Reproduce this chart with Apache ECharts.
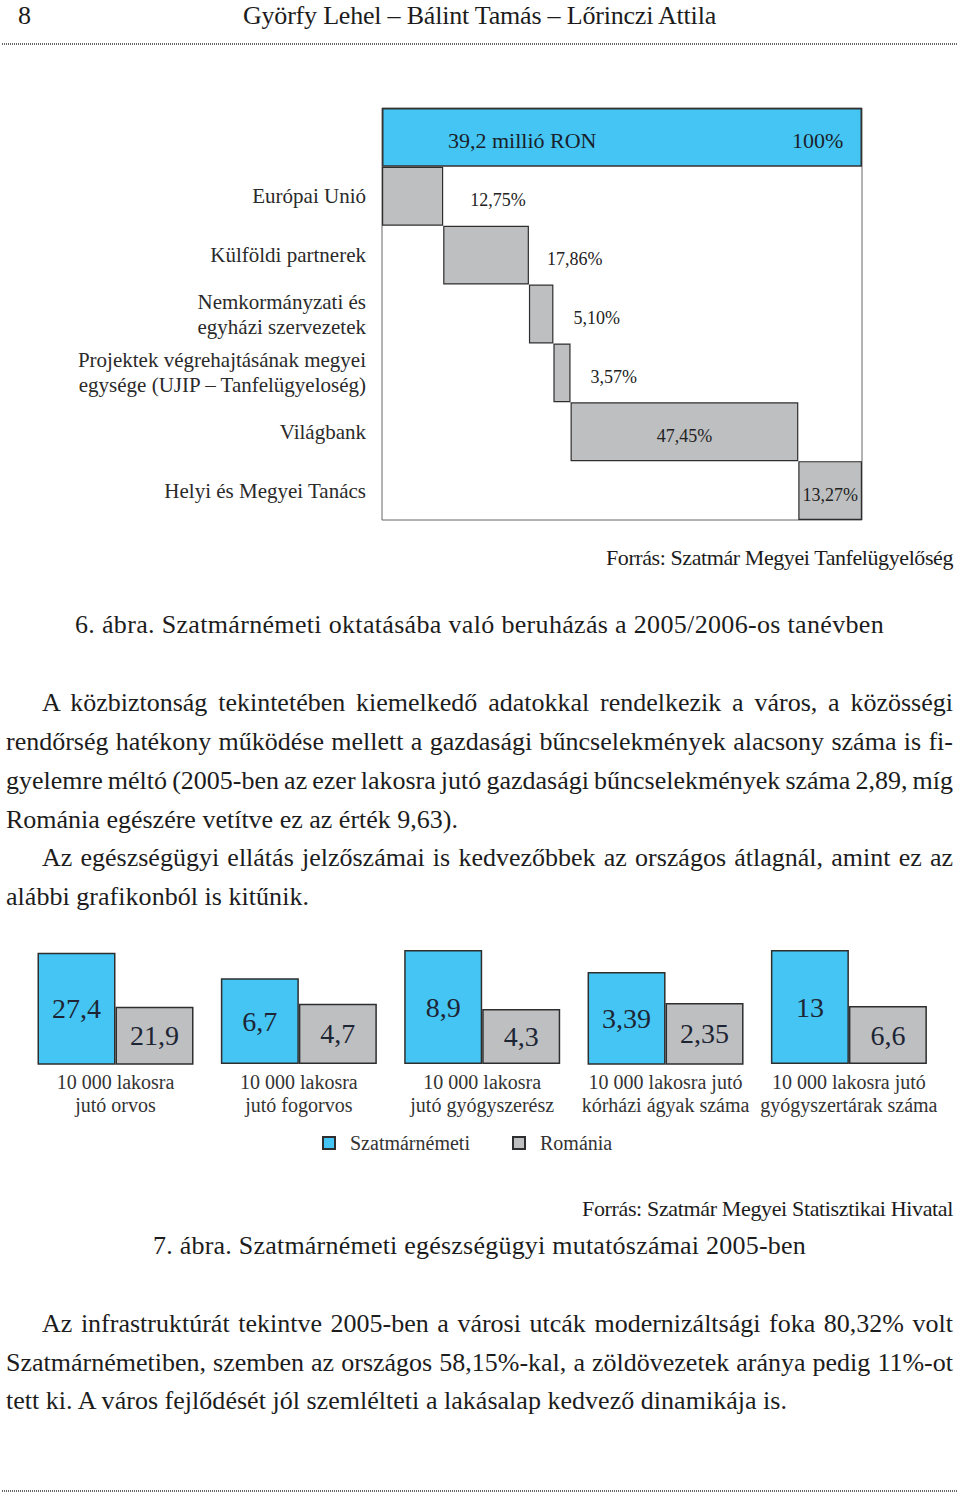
<!DOCTYPE html>
<html><head><meta charset="utf-8">
<script src="https://cdn.jsdelivr.net/npm/echarts@6/dist/echarts.min.js"></script>
<style>
html,body{margin:0;padding:0;background:#fff;}
#page{position:relative;width:960px;height:1494px;overflow:hidden;background:#fff;}
#chart{position:absolute;left:0;top:0;width:960px;height:1494px;}
.t{position:absolute;font-family:'Liberation Serif',serif;color:#1c1c1c;white-space:nowrap;line-height:30px;}
.dots{position:absolute;left:2px;width:956px;height:2px;background:repeating-linear-gradient(to right,#666 0 1px,transparent 1px 2px);}
</style></head>
<body><div id="page"><div id="chart"></div></div>
<script>
// ---------- data ----------
const fundCategories = ['', 'Európai Unió', 'Külföldi partnerek', 'Nemkormányzati és\negyházi szervezetek',
  'Projektek végrehajtásának megyei\negysége (UJIP – Tanfelügyeloség)', 'Világbank', 'Helyi és Megyei Tanács'];
const fundShares = [100, 12.75, 17.86, 5.10, 3.57, 47.45, 13.27];
const fundTotalLabel = '39,2 millió RON';

const healthCategories = ['10 000 lakosra\njutó orvos', '10 000 lakosra\njutó fogorvos', '10 000 lakosra\njutó gyógyszerész',
  '10 000 lakosra jutó\nkórházi ágyak száma', '10 000 lakosra jutó\ngyógyszertárak száma'];
const szatmarValues = [27.4, 6.7, 8.9, 3.39, 13];
const romaniaValues = [21.9, 4.7, 4.3, 2.35, 6.6];
const seriesNames = ['Szatmárnémeti', 'Románia'];

// ---------- text of the page ----------
const FONT = "'Liberation Serif', serif";
const page = document.getElementById('page');
function place(text, x1, x2, yc, size, mode) {
  const d = document.createElement('div');
  d.className = 't'; d.textContent = text;
  d.style.fontSize = size + 'px'; d.style.left = x1 + 'px'; d.style.top = (yc - 15) + 'px';
  page.appendChild(d);
  const w = d.getBoundingClientRect().width, target = x2 - x1;
  if (mode === 'justify') {
    const n = (text.match(/ /g) || []).length;
    if (n) d.style.wordSpacing = ((target - w) / n) + 'px';
  } else if (mode === 'fit') {
    d.style.letterSpacing = ((target - w) / text.length) + 'px';
  }
}
function dots(y) { const d = document.createElement('div'); d.className = 'dots'; d.style.top = y + 'px'; page.appendChild(d); }

place('8', 18, 32, 16, 26, 'none');
place('Györfy Lehel – Bálint Tamás – Lőrinczi Attila', 243, 716, 16, 26, 'fit');
dots(43);
place('Forrás: Szatmár Megyei Tanfelügyelőség', 606, 953, 558, 22, 'fit');
place('6. ábra. Szatmárnémeti oktatásába való beruházás a 2005/2006-os tanévben', 75, 884, 625, 26, 'fit');
place('A közbiztonság tekintetében kiemelkedő adatokkal rendelkezik a város, a közösségi', 42, 953, 703, 26, 'justify');
place('rendőrség hatékony működése mellett a gazdasági bűncselekmények alacsony száma is fi-', 6, 953, 742, 26, 'justify');
place('gyelemre méltó (2005-ben az ezer lakosra jutó gazdasági bűncselekmények száma 2,89, míg', 6, 953, 781, 26, 'justify');
place('Románia egészére vetítve ez az érték 9,63).', 6, 458, 820, 26, 'fit');
place('Az egészségügyi ellátás jelzőszámai is kedvezőbbek az országos átlagnál, amint ez az', 42, 953, 858, 26, 'justify');
place('alábbi grafikonból is kitűnik.', 6, 309, 897, 26, 'fit');
place('Forrás: Szatmár Megyei Statisztikai Hivatal', 582, 953, 1209, 22, 'fit');
place('7. ábra. Szatmárnémeti egészségügyi mutatószámai 2005-ben', 153, 806, 1246, 26, 'fit');
place('Az infrastruktúrát tekintve 2005-ben a városi utcák modernizáltsági foka 80,32% volt', 42, 953, 1324, 26, 'justify');
place('Szatmárnémetiben, szemben az országos 58,15%-kal, a zöldövezetek aránya pedig 11%-ot', 6, 953, 1363, 26, 'justify');
place('tett ki. A város fejlődését jól szemlélteti a lakásalap kedvező dinamikája is.', 6, 787, 1401, 26, 'fit');
dots(1490);

// ---------- chart ----------
const BLUE = '#44c5f3', GRAY = '#bebfc1', EDGE = '#2e2e2e';
const fmtNum = v => String(v).replace('.', ',');
const fmtPct = v => v.toFixed(2).replace('.', ',') + '%';

// invisible offsets for the waterfall (running total of previous shares)
const fundBase = fundShares.map((v, i) => {
  if (i <= 1) return 0;
  let s = 0; for (let k = 1; k < i; k++) s += fundShares[k]; return s;
});
const shareLabelPlacement = [null,
  { position: 'right', distance: 27 }, { position: 'right', distance: 18 },
  { position: 'right', distance: 20 }, { position: 'right', distance: 20 },
  { position: 'inside' }, { position: 'inside' }];

const shareData = fundShares.map((v, i) => {
  if (i === 0) return {
    value: v, itemStyle: { color: BLUE, borderColor: '#333', borderWidth: 1.5 },
    label: { show: true, position: 'insideLeft', distance: 66, offset: [0, 3],
      formatter: '{a|' + fundTotalLabel + '}{b|' + v + '%}',
      rich: { a: { width: 344, fontSize: 22, fontFamily: FONT, color: '#1a1f2b' },
              b: { fontSize: 22, fontFamily: FONT, color: '#1a1f2b' } } }
  };
  return { value: v, label: Object.assign({ show: true, formatter: fmtPct(v), fontSize: 18, offset: [0, 4],
    fontFamily: FONT, color: '#222' }, shareLabelPlacement[i]) };
});

const grids = [{ left: 382, top: 108, width: 480, height: 412, show: true, borderColor: '#666', borderWidth: 1 }];
const xAxes = [{ gridIndex: 0, type: 'value', min: 0, max: 100, show: false }];
const yAxes = [{ gridIndex: 0, type: 'category', inverse: true, data: fundCategories,
  axisLine: { show: false }, axisTick: { show: false }, splitLine: { show: false },
  axisLabel: { margin: 16, fontSize: 21, lineHeight: 25, color: '#2a2a2a', fontFamily: FONT, padding: [8, 0, 0, 0] } }];
const series = [
  { type: 'bar', name: 'alap', stack: 'w', xAxisIndex: 0, yAxisIndex: 0, data: fundBase,
    itemStyle: { color: 'transparent' }, barCategoryGap: 0, silent: true },
  { type: 'bar', name: 'arány', stack: 'w', xAxisIndex: 0, yAxisIndex: 0, data: shareData,
    itemStyle: { color: GRAY, borderColor: EDGE, borderWidth: 1.2 }, barCategoryGap: 0 }
];

// health indicator panels (each panel has its own value scale, as in the original figure)
const healthAxisMin = [16.06, 0, 0, 0.3, 0];
const healthAxisMax = [27.67, 8.91, 8.9, 4.13, 13];
healthCategories.forEach((c, i) => {
  const gi = i + 1;
  grids.push({ left: 37.5 + i * 183.35, top: 950, width: 156, height: 114 });
  xAxes.push({ gridIndex: gi, type: 'category', data: [c], axisLine: { show: false }, axisTick: { show: false },
    axisLabel: { interval: 0, margin: 6, fontSize: 20, lineHeight: 23, color: '#333', fontFamily: FONT } });
  yAxes.push({ gridIndex: gi, type: 'value', min: healthAxisMin[i], max: healthAxisMax[i], show: false });
  [szatmarValues, romaniaValues].forEach((arr, k) => {
    series.push({ type: 'bar', name: seriesNames[k], xAxisIndex: gi, yAxisIndex: gi, data: [arr[i]],
      barGap: 0, barCategoryGap: 0, clip: true,
      itemStyle: { color: k === 0 ? BLUE : GRAY, borderColor: EDGE, borderWidth: 1.5 },
      label: { show: true, position: 'inside', formatter: p => fmtNum(p.value), fontSize: 28,
        fontFamily: FONT, color: '#1d2535' } });
  });
});

const legendBase = { icon: 'rect', itemWidth: 12, itemHeight: 12, top: 1128, selectedMode: false,
  textStyle: { fontSize: 20, color: '#333', fontFamily: FONT, padding: [0, 0, 0, 10] } };

const chart = echarts.init(document.getElementById('chart'), null, { renderer: 'svg' });
chart.setOption({
  animation: false,
  grid: grids, xAxis: xAxes, yAxis: yAxes, series: series,
  legend: [Object.assign({ data: [seriesNames[0]], left: 317 }, legendBase),
           Object.assign({ data: [seriesNames[1]], left: 507 }, legendBase)]
});
</script>
</body></html>
